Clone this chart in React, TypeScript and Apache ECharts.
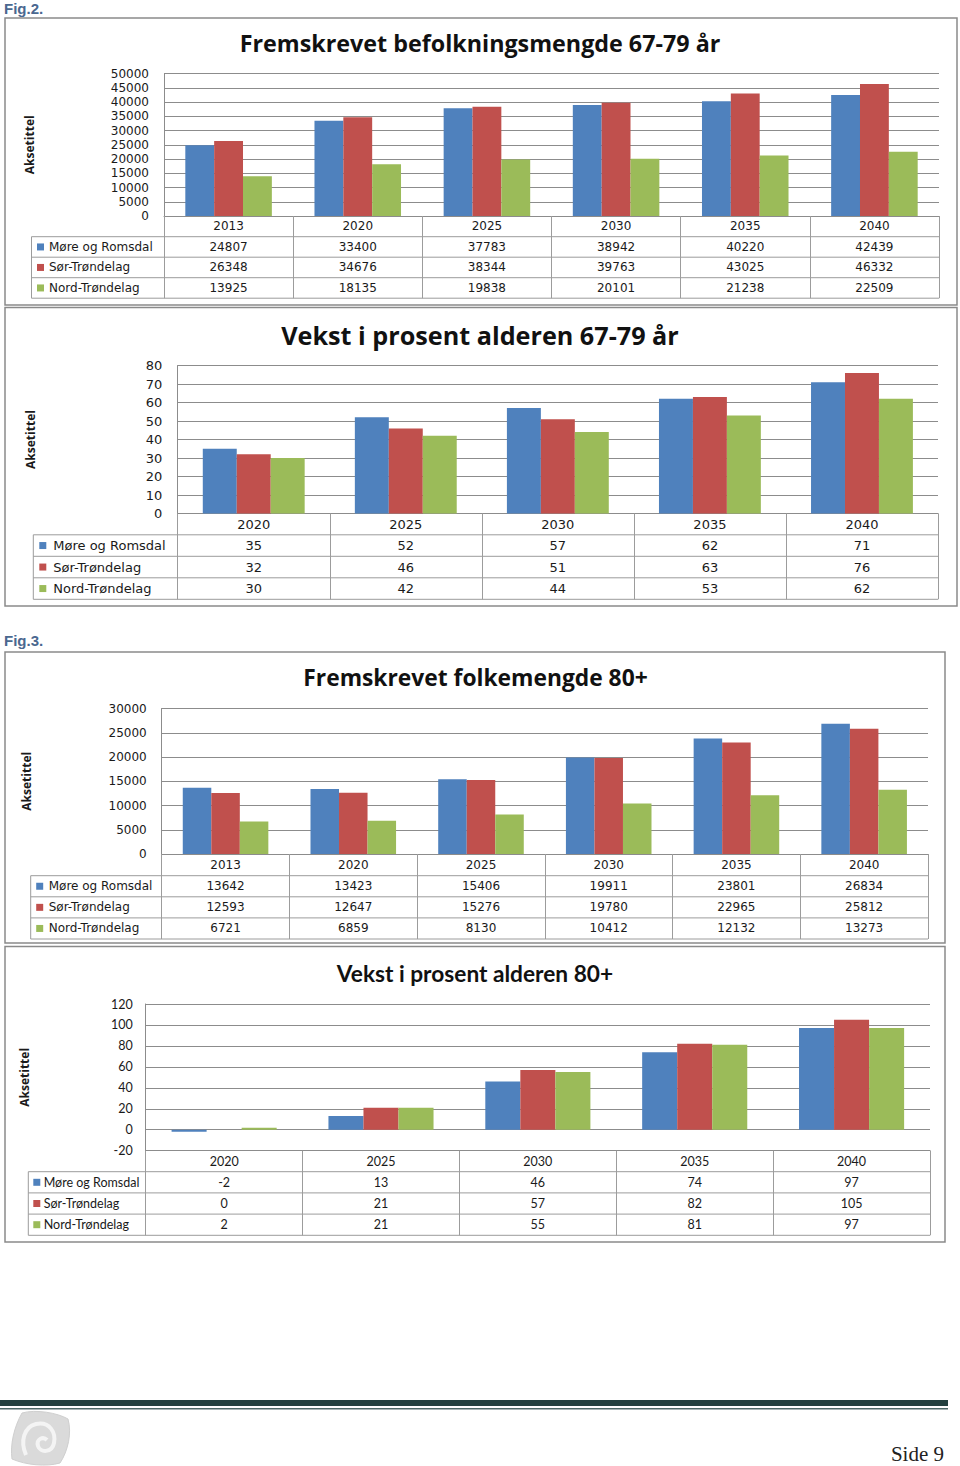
import React, { useEffect, useRef } from "react";
import * as echarts from "echarts";

// ---------- data ----------
const seriesNames = ["Møre og Romsdal", "Sør-Trøndelag", "Nord-Trøndelag"];
const seriesColors = ["#4F81BD", "#C0504D", "#9BBB59"];

const cats1 = ["2013", "2020", "2025", "2030", "2035", "2040"];
const more1 = [24807, 33400, 37783, 38942, 40220, 42439];
const sor1 = [26348, 34676, 38344, 39763, 43025, 46332];
const nord1 = [13925, 18135, 19838, 20101, 21238, 22509];

const cats2 = ["2020", "2025", "2030", "2035", "2040"];
const more2 = [35, 52, 57, 62, 71];
const sor2 = [32, 46, 51, 63, 76];
const nord2 = [30, 42, 44, 53, 62];

const cats3 = ["2013", "2020", "2025", "2030", "2035", "2040"];
const more3 = [13642, 13423, 15406, 19911, 23801, 26834];
const sor3 = [12593, 12647, 15276, 19780, 22965, 25812];
const nord3 = [6721, 6859, 8130, 10412, 12132, 13273];

const cats4 = ["2020", "2025", "2030", "2035", "2040"];
const more4 = [-2, 13, 46, 74, 97];
const sor4 = [0, 21, 57, 82, 105];
const nord4 = [2, 21, 55, 81, 97];

const titles = [
  "Fremskrevet befolkningsmengde 67-79 år",
  "Vekst i prosent alderen 67-79 år",
  "Fremskrevet folkemengde 80+",
  "Vekst i prosent alderen 80+",
];
const axisTitle = "Aksetittel";

// ---------- logo shapes ----------
echarts.graphic.registerShape(
  "logoOuter",
  echarts.graphic.extendPath(
    "M14,4 C28,0 50,4 60,10 C64,24 60,42 52,54 C38,58 18,56 4,50 C2,36 6,18 14,4 Z",
    {}
  )
);
echarts.graphic.registerShape(
  "logoSpiral",
  echarts.graphic.extendPath(
    "M18,46 C12,32 16,18 28,15 C42,12 48,24 46,34 C44,44 32,44 30,37 C28,30 35,27 39,31",
    {}
  )
);

type Panel = {
  cats: string[];
  vals: number[][];
  title: string;
  titleX: number;
  titleY: number;
  titleFont: string;
  frame: number[];
  grid: { left: number; top: number; width: number; height: number };
  min: number;
  max: number;
  interval: number;
  headerH: number;
  rowH: number;
  tableLeft: number;
  font: string;
  fs: number;
  yMargin: number;
  nameGap: number;
  swatchDx: number;
  textDx: number;
};

const panels: Panel[] = [
  {
    cats: cats1, vals: [more1, sor1, nord1], title: titles[0],
    titleX: 480, titleY: 43, titleFont: 'bold 23.3px "Open Sans"',
    frame: [5, 18, 952, 287],
    grid: { left: 164, top: 73.5, width: 775, height: 142.5 },
    min: 0, max: 50000, interval: 5000,
    headerH: 20.7, rowH: 20.5, tableLeft: 31.5,
    font: "DejaVu Sans", fs: 12, yMargin: 15, nameGap: 129, swatchDx: 5.5, textDx: 17.5,
  },
  {
    cats: cats2, vals: [more2, sor2, nord2], title: titles[1],
    titleX: 480, titleY: 335, titleFont: 'bold 25.2px "Open Sans"',
    frame: [5, 307.5, 952, 298.5],
    grid: { left: 177.7, top: 365.5, width: 760.3, height: 148 },
    min: 0, max: 80, interval: 10,
    headerH: 21.3, rowH: 21.5, tableLeft: 33.3,
    font: "DejaVu Sans", fs: 13, yMargin: 15.5, nameGap: 141, swatchDx: 6, textDx: 20,
  },
  {
    cats: cats3, vals: [more3, sor3, nord3], title: titles[2],
    titleX: 475.5, titleY: 677.5, titleFont: 'bold 22.8px "Open Sans"',
    frame: [5, 652, 940, 291],
    grid: { left: 161.7, top: 708.5, width: 766.3, height: 145.5 },
    min: 0, max: 30000, interval: 5000,
    headerH: 21.7, rowH: 21.1, tableLeft: 30.7,
    font: "DejaVu Sans", fs: 12, yMargin: 15, nameGap: 129, swatchDx: 5.5, textDx: 18,
  },
  {
    cats: cats4, vals: [more4, sor4, nord4], title: titles[3],
    titleX: 475, titleY: 973, titleFont: 'bold 22.7px "Lato"',
    frame: [5, 946.5, 940, 295.5],
    grid: { left: 145.7, top: 1004, width: 784.3, height: 146.7 },
    min: -20, max: 120, interval: 20,
    headerH: 21, rowH: 21.2, tableLeft: 28.3,
    font: "Lato", fs: 12.5, yMargin: 13, nameGap: 115, swatchDx: 5, textDx: 15.4,
  },
];

const GRID_LINE = "#8c8c8c";
const TABLE_LINE = "#9c9c9c";
const TEXT = "#1a1a1a";

function buildOption() {
  const grids: any[] = [];
  const xAxes: any[] = [];
  const yAxes: any[] = [];
  const series: any[] = [];
  const graphics: any[] = [];

  panels.forEach((p, pi) => {
    const g = p.grid;
    const bottom = g.top + g.height;
    const right = g.left + g.width;
    const tableH = p.headerH + 3 * p.rowH;

    grids.push({ left: g.left, top: g.top, width: g.width, height: g.height, containLabel: false, show: false });

    const mainIdx = xAxes.length;
    xAxes.push({
      type: "category",
      gridIndex: pi,
      data: p.cats,
      position: "bottom",
      axisLine: { show: true, onZero: false, lineStyle: { color: GRID_LINE, width: 1 } },
      axisTick: { show: true, alignWithLabel: false, interval: 0, length: tableH, lineStyle: { color: TABLE_LINE, width: 1 } },
      axisLabel: {
        interval: 0, margin: p.headerH / 2, verticalAlign: "middle",
        fontFamily: p.font, fontSize: p.fs, color: TEXT,
      },
      splitLine: { show: false },
    });
    for (let k = 0; k < 3; k++) {
      const vals = p.vals[k];
      xAxes.push({
        type: "category",
        gridIndex: pi,
        data: p.cats,
        position: "bottom",
        offset: p.headerH + k * p.rowH,
        axisLine: { show: false },
        axisTick: { show: false },
        splitLine: { show: false },
        axisLabel: {
          interval: 0, margin: p.rowH / 2, verticalAlign: "middle",
          fontFamily: p.font, fontSize: p.fs, color: TEXT,
          formatter: (_v: string, i: number) => String(vals[i]),
        },
      });
    }

    yAxes.push({
      type: "value",
      gridIndex: pi,
      min: p.min,
      max: p.max,
      interval: p.interval,
      axisLine: { show: true, lineStyle: { color: GRID_LINE, width: 1 } },
      axisTick: { show: false },
      splitLine: { show: true, lineStyle: { color: GRID_LINE, width: 1 } },
      axisLabel: {
        margin: p.yMargin, fontFamily: p.font, fontSize: p.fs, color: TEXT,
        formatter: (v: number) => String(v),
      },
      name: axisTitle,
      nameLocation: "middle",
      nameRotate: 90,
      nameGap: p.nameGap,
      nameTextStyle: { fontFamily: "Open Sans", fontWeight: "bold", fontSize: 12, color: TEXT },
    });

    p.vals.forEach((vals, k) => {
      series.push({
        type: "bar",
        name: seriesNames[k],
        xAxisIndex: mainIdx,
        yAxisIndex: pi,
        data: vals,
        itemStyle: { color: seriesColors[k] },
        barGap: "0%",
        barCategoryGap: "33%",
      });
    });

    // frame
    graphics.push({
      type: "rect",
      shape: { x: p.frame[0], y: p.frame[1], width: p.frame[2], height: p.frame[3] },
      style: { fill: "none", stroke: "#8a8a8a", lineWidth: 1.5 },
      z: 0,
    });
    // title
    graphics.push({
      type: "text",
      x: p.titleX,
      y: p.titleY,
      style: { text: p.title, font: p.titleFont, fill: "#111", textAlign: "center", textVerticalAlign: "middle" },
    });
    // table horizontal lines
    for (let k = 0; k <= 3; k++) {
      const y = bottom + p.headerH + k * p.rowH;
      graphics.push({
        type: "line",
        shape: { x1: p.tableLeft, y1: y, x2: right, y2: y },
        style: { stroke: TABLE_LINE, lineWidth: 1 },
      });
    }
    // table left edge
    graphics.push({
      type: "line",
      shape: { x1: p.tableLeft, y1: bottom + p.headerH, x2: p.tableLeft, y2: bottom + tableH },
      style: { stroke: TABLE_LINE, lineWidth: 1 },
    });
    // legend keys
    for (let k = 0; k < 3; k++) {
      const cy = bottom + p.headerH + (k + 0.5) * p.rowH;
      graphics.push({
        type: "rect",
        shape: { x: p.tableLeft + p.swatchDx, y: cy - 3.5, width: 7, height: 7 },
        style: { fill: seriesColors[k] },
      });
      graphics.push({
        type: "text",
        x: p.tableLeft + p.textDx,
        y: cy,
        style: {
          text: seriesNames[k],
          font: `${p.fs}px "${p.font}"`,
          fill: TEXT,
          textAlign: "left",
          textVerticalAlign: "middle",
        },
      });
    }
  });

  // figure labels
  graphics.push({
    type: "text", x: 4, y: 8,
    style: { text: "Fig.2.", font: 'bold 15px "Liberation Sans"', fill: "#4a6890", textAlign: "left", textVerticalAlign: "middle" },
  });
  graphics.push({
    type: "text", x: 4, y: 640,
    style: { text: "Fig.3.", font: 'bold 15px "Liberation Sans"', fill: "#4a6890", textAlign: "left", textVerticalAlign: "middle" },
  });

  // footer
  graphics.push({
    type: "rect",
    shape: { x: 0, y: 1400, width: 948, height: 6 },
    style: { fill: "#23403f" },
  });
  graphics.push({
    type: "rect",
    shape: { x: 0, y: 1408, width: 948, height: 1.5 },
    style: { fill: "#4c6766" },
  });
  graphics.push({
    type: "logoOuter", x: 8, y: 1409, scaleX: 1, scaleY: 1,
    style: { fill: "#dadada", stroke: "#cfcfcf", lineWidth: 1 },
  });
  graphics.push({
    type: "logoSpiral", x: 8, y: 1409, scaleX: 1, scaleY: 1,
    style: { fill: "none", stroke: "#f4f4f4", lineWidth: 4 },
  });
  graphics.push({
    type: "text", x: 944, y: 1454,
    style: { text: "Side 9", font: '21px "Liberation Serif"', fill: "#222", textAlign: "right", textVerticalAlign: "middle" },
  });

  return {
    animation: false,
    backgroundColor: "#ffffff",
    grid: grids,
    xAxis: xAxes,
    yAxis: yAxes,
    series,
    graphic: { elements: graphics },
  };
}

export default function App() {
  const ref = useRef<HTMLDivElement>(null);
  useEffect(() => {
    if (!ref.current) return;
    const chart = echarts.init(ref.current, undefined, { renderer: "svg" });
    chart.setOption(buildOption() as any);
    return () => chart.dispose();
  }, []);
  return (
    <div
      ref={ref}
      style={{ position: "absolute", left: 0, top: 0, width: 960, height: 1466 }}
    />
  );
}
